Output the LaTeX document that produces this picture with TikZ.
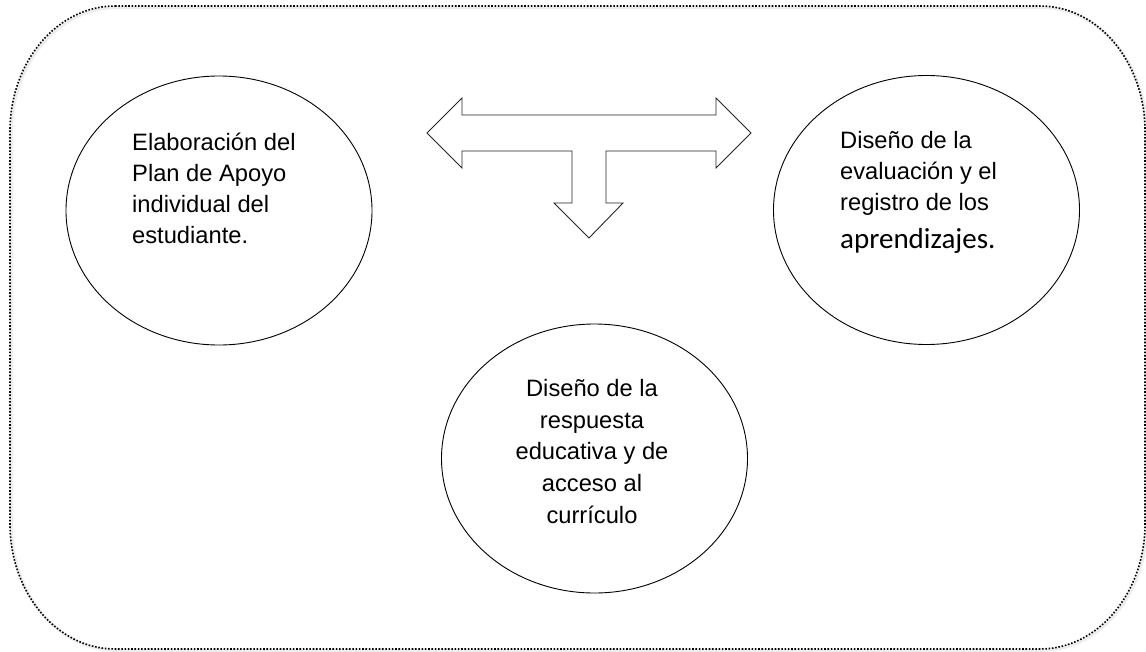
\documentclass[tikz,border=0pt]{standalone}
\usepackage{fontspec}
\setmainfont{Liberation Sans}
\newfontfamily\calib{Carlito}
\usetikzlibrary{shapes.geometric}
\tikzset{
  frame/.style={line width=1.6pt, dash pattern=on 1.6pt off 1.7pt},
  shade/.style={black!7, line width=3pt},
  bubble/.style={draw, ellipse, line width=0.9pt, minimum width=306pt, minimum height=269pt, inner sep=0pt},
  txt/.style={font=\fontsize{23.7}{31}\selectfont, inner sep=0pt},
  bigarrow/.style={draw=black!85, line width=0.9pt, line join=miter}
}
\begin{document}
\begin{tikzpicture}[x=1pt,y=-1pt]
\useasboundingbox (0,0) rectangle (1146,651);
% soft shadow
\draw[shade, shift={(1.5,1.5)}] (115,6) -- (1040,6) .. controls (1098,6) and (1145,62) .. (1145,131)
  -- (1145,524) .. controls (1145,593) and (1098,649) .. (1040,649)
  -- (115,649) .. controls (57,649) and (10,593) .. (10,524)
  -- (10,131) .. controls (10,62) and (57,6) .. cycle;
\draw[frame] (115,6) -- (1040,6) .. controls (1098,6) and (1145,62) .. (1145,131)
  -- (1145,524) .. controls (1145,593) and (1098,649) .. (1040,649)
  -- (115,649) .. controls (57,649) and (10,593) .. (10,524)
  -- (10,131) .. controls (10,62) and (57,6) .. cycle;

\node[bubble] (plan) at (219,210.5) {};
\node[bubble] (eval) at (926.5,210) {};
\node[bubble] (resp) at (594.5,458.5) {};

\node[txt, anchor=base west] (plantxt) at (132,150)
  {\begin{tabular}[t]{@{}l@{}}Elaboración del\\Plan de Apoyo\\individual del\\estudiante.\end{tabular}};
\node[txt, anchor=base west] (evaltxt) at (840,148)
  {\begin{tabular}[t]{@{}l@{}}Diseño de la\\evaluación y el\\registro de los\end{tabular}};
\node[inner sep=0pt, anchor=base west, font=\calib\fontsize{29}{31}\selectfont] (evaltxt2) at (840,248) {aprendizajes.};
\node[txt, anchor=base, font=\fontsize{23.7}{31.6}\selectfont] (resptxt) at (592,396.7)
  {\begin{tabular}[t]{@{}c@{}}Diseño de la\\respuesta\\educativa y de\\acceso al\\currículo\end{tabular}};

\draw[bigarrow] (427,133) -- (462,98) -- (462,115) -- (716,115) -- (716,98) -- (751,133)
  -- (716,168) -- (716,151) -- (606,151) -- (606,203) -- (623,203) -- (589,238)
  -- (554,203) -- (572,203) -- (572,151) -- (462,151) -- (462,168) -- cycle;
\end{tikzpicture}
\end{document}
